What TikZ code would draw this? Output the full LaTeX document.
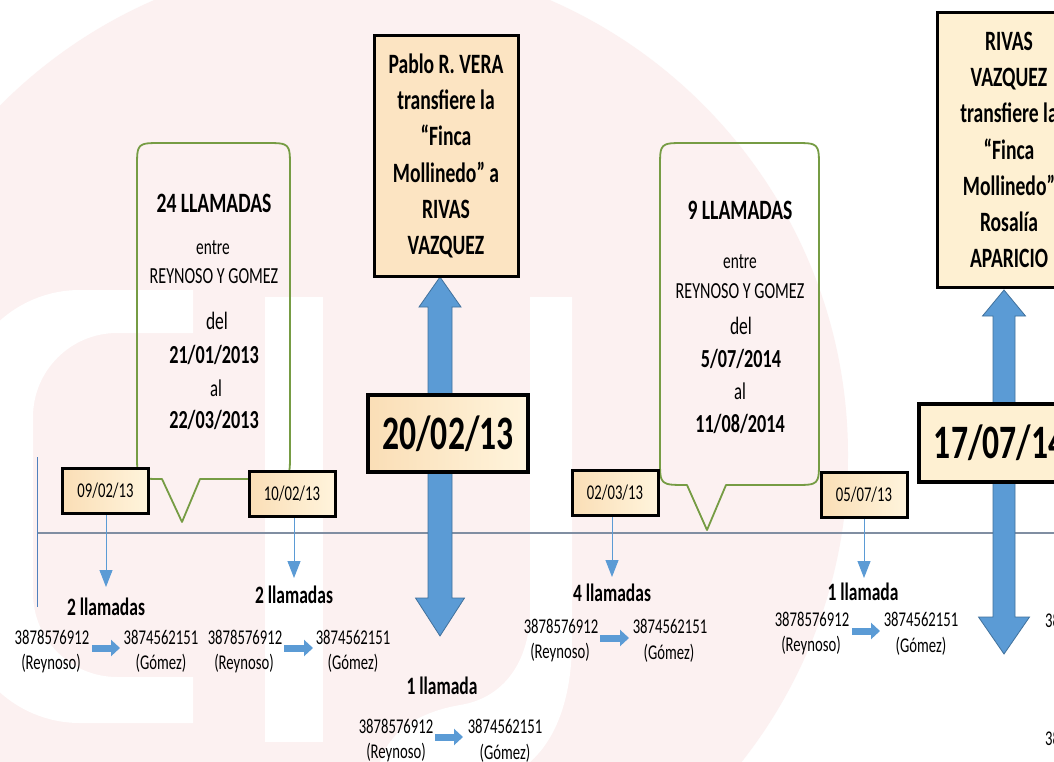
\documentclass[tikz,border=0pt]{standalone}
\usepackage{fontspec}
\setmainfont[FakeStretch=0.7]{Carlito}
\usetikzlibrary{arrows.meta,calc}
\pgfdeclarelayer{wm}
\pgfdeclarelayer{behind}
\pgfsetlayers{wm,behind,main}
\definecolor{wmpink}{RGB}{252,241,241}
\definecolor{callgreen}{RGB}{118,156,68}
\definecolor{arrblue}{RGB}{91,155,213}
\definecolor{arredge}{RGB}{65,113,156}
\definecolor{tline}{RGB}{128,142,162}
\definecolor{vline}{RGB}{79,129,189}
\definecolor{sbA}{RGB}{250,222,182}
\definecolor{sbB}{RGB}{255,244,220}
\definecolor{boxC}{RGB}{252,228,194}
\definecolor{boxD}{RGB}{254,240,210}
\tikzset{
  bx/.style={draw=black, line width=3pt, inner sep=0pt, align=center, text=black},
  smallbox/.style={bx, minimum width=86pt, minimum height=45pt, left color=sbA, right color=sbB, font=\fontsize{21}{25}\selectfont},
  topbox/.style={bx, font=\bfseries\fontsize{28}{36.3}\selectfont},
  bigdate/.style={bx, line width=4pt, font=\bfseries\fontsize{48}{56}\selectfont},
  callout/.style={draw=callgreen, line width=1.8pt, line join=round},
  bigarrow/.style={fill=arrblue, draw=arredge, line width=0.8pt},
  thinarrow/.style={draw=arrblue, line width=1pt, -{Triangle[length=17pt,width=13pt]}},
  phonearrow/.style={draw=arrblue, line width=7pt, -{Triangle[length=9pt,width=16pt]}},
  lbl/.style={inner sep=0pt, font=\bfseries\fontsize{25}{30}\selectfont},
  num/.style={inner sep=0pt, font=\fontsize{21}{25}\selectfont},
  cbold/.style={inner sep=0pt, font=\bfseries\fontsize{26}{30}\selectfont},
  chead/.style={inner sep=0pt, font=\bfseries\fontsize{28}{32}\selectfont},
  creg/.style={inner sep=0pt, font=\fontsize{#1}{#1}\selectfont},
}
\begin{document}
\begin{tikzpicture}[x=1pt,y=-1pt]
\useasboundingbox (0,0) rectangle (1054,762);

% ---------- watermark ----------
\begin{pgfonlayer}{wm}
  \clip (0,0) rectangle (1054,762);
  \fill[white] (0,0) rectangle (1054,762);
  \fill[wmpink] (352,455) circle[radius=496];
  \begin{scope}
    \clip (0,0) rectangle (193,762);
    \fill[white,even odd rule] [rounded corners=120pt] (-40,290) rectangle (420,723) [rounded corners=84pt] (33,333) rectangle (420,677);
  \end{scope}
  \fill[white] (265,297) rectangle (323,742);
  \fill[white] (530,297) -- (572,297) -- (572,640) .. controls (572,700) and (555,740) .. (530,762) -- (380,762) .. controls (390,730) and (420,712) .. (460,705) .. controls (505,698) and (530,660) .. (530,610) -- cycle;
\end{pgfonlayer}

% ---------- boxes ----------
\begin{scope}
\clip (0,0) rectangle (1054,762);
\node[topbox, minimum width=144pt, minimum height=241pt, fill=boxC] (p1) at (446,156)
  {Pablo R. VERA\\transfiere la\\“Finca\\Mollinedo” a\\RIVAS\\VAZQUEZ};
\node[topbox, minimum width=143pt, minimum height=275pt, fill=boxD] (p2) at (1009,150)
  {RIVAS\\VAZQUEZ\\transfiere la\\“Finca\\Mollinedo”\\Rosalía\\APARICIO};
\node[bigdate, minimum width=160pt, minimum height=77pt, left color=sbA, right color=sbB] (b1) at (448,433.5) {20/02/13};
\node[bigdate, minimum width=161pt, minimum height=78pt, fill=boxD] (b2) at (999.5,443) {17/07/14};

\node[smallbox] (d1) at (105.5,491) {09/02/13};
\node[smallbox] (d2) at (292,493.5) {10/02/13};
\node[smallbox] (d3) at (615,493) {02/03/13};
\node[smallbox] (d4) at (864,495) {05/07/13};

% callout texts
\node[chead] (c1a) at (214,203) {24 LLAMADAS};
\node[creg=22] (c1b) at (213,248) {entre};
\node[creg=23] (c1c) at (214,276) {REYNOSO Y GOMEZ};
\node[creg=25] (c1d) at (217,321) {del};
\node[cbold] (c1e) at (214,355) {21/01/2013};
\node[creg=24] (c1f) at (216,388) {al};
\node[cbold] (c1g) at (214,420) {22/03/2013};

\node[chead] (c2a) at (740,210) {9 LLAMADAS};
\node[creg=22] (c2b) at (740,262) {entre};
\node[creg=23] (c2c) at (740,291) {REYNOSO Y GOMEZ};
\node[creg=25] (c2d) at (741,326) {del};
\node[cbold] (c2e) at (741,359) {5/07/2014};
\node[creg=24] (c2f) at (740,391) {al};
\node[cbold] (c2g) at (740,424) {11/08/2014};

% call labels
\node[lbl] (l1) at (106,607) {2 llamadas};
\node[lbl] (l2) at (294,595) {2 llamadas};
\node[lbl] (l3) at (442,686) {1 llamada};
\node[lbl] (l4) at (612,593) {4 llamadas};
\node[lbl] (l5) at (863,592) {1 llamada};

% phone groups
\node[num] (f1) at (52,637) {3878576912};
\node[num] (f1n) at (51,664) {(Reynoso)};
\node[num] (g1) at (161,637) {3874562151};
\node[num] (g1n) at (161,663) {(Gómez)};
\node[num] (f2) at (245,637) {3878576912};
\node[num] (f2n) at (244,664) {(Reynoso)};
\node[num] (g2) at (353,637) {3874562151};
\node[num] (g2n) at (353,663) {(Gómez)};
\node[num] (f3) at (396,726) {3878576912};
\node[num] (f3n) at (396,753) {(Reynoso)};
\node[num] (g3) at (505,726) {3874562151};
\node[num] (g3n) at (505,753) {(Gómez)};
\node[num] (f4) at (561,626) {3878576912};
\node[num] (f4n) at (560,653) {(Reynoso)};
\node[num] (g4) at (670,626) {3874562151};
\node[num] (g4n) at (669,653) {(Gómez)};
\node[num] (f5) at (812,619) {3878576912};
\node[num] (f5n) at (811,646) {(Reynoso)};
\node[num] (g5) at (921,619) {3874562151};
\node[num] (g5n) at (921,646) {(Gómez)};
\node[num, anchor=west] (f6) at (1045,620) {3878576912};
\node[num, anchor=west] (f7) at (1045,738) {3878576912};
\end{scope}

% ---------- lines and arrows ----------
\begin{pgfonlayer}{behind}
  \clip (0,0) rectangle (1054,762);
  \coordinate (tl0) at (37,533);
  \coordinate (tl1) at (1060,533);
  \draw[tline, line width=1.6pt] (tl0) -- (tl1);
  \coordinate (v0) at (37,457);
  \coordinate (v1) at (37,607);
  \draw[vline, line width=0.8pt] (v0) -- (v1);

  % callouts
  \draw[callout] (200,479) -- (265,479) .. controls (290,479) .. (290,454) -- (290,168)
     .. controls (290,143) .. (265,143) -- (162,143) .. controls (137,143) .. (137,168)
     -- (137,454) .. controls (137,479) .. (162,479) -- (182,522) -- cycle;
  \draw[callout] (726,485) -- (794,485) .. controls (819,485) .. (819,460) -- (819,168)
     .. controls (819,143) .. (794,143) -- (685,143) .. controls (660,143) .. (660,168)
     -- (660,460) .. controls (660,485) .. (687,485) -- (707,530) -- cycle;

  % big double arrows
  \coordinate (a1t) at (440,277);
  \coordinate (a1b) at (440,636);
  \draw[bigarrow] (a1t) -- ++(21,30) -- ++(-9,0) -- ($(a1b)+(12,-38)$) -- ++(12.5,0) -- (a1b)
     -- ++(-24.5,-38) -- ++(12.5,0) -- ($(a1t)+(-12,30)$) -- ++(-9,0) -- cycle;
  \coordinate (a2t) at (1004,290);
  \coordinate (a2b) at (1004,654);
  \draw[bigarrow] (a2t) -- ++(21.5,26) -- ++(-10.5,0) -- ($(a2b)+(11,-37)$) -- ++(14.5,0) -- (a2b)
     -- ++(-25.5,-37) -- ++(14.5,0) -- ($(a2t)+(-11,26)$) -- ++(-10.5,0) -- cycle;

  % thin arrows from date boxes
  \coordinate (t1) at (106,587);
  \coordinate (t2) at (294,578);
  \coordinate (t3) at (612,577);
  \coordinate (t4) at (864,578);
  \draw[thinarrow] (d1.south -| t1) -- (t1);
  \draw[thinarrow] (d2.south -| t2) -- (t2);
  \draw[thinarrow] (d3.south -| t3) -- (t3);
  \draw[thinarrow] (d4.south -| t4) -- (t4);

  % phone arrows
  \coordinate (q1a) at (92,648);  \coordinate (q1b) at (120,648);
  \coordinate (q2a) at (284,648); \coordinate (q2b) at (313,648);
  \coordinate (q3a) at (435,737); \coordinate (q3b) at (463,737);
  \coordinate (q4a) at (600,638); \coordinate (q4b) at (629,638);
  \coordinate (q5a) at (852,631); \coordinate (q5b) at (880,631);
  \draw[phonearrow] (q1a) -- (q1b);
  \draw[phonearrow] (q2a) -- (q2b);
  \draw[phonearrow] (q3a) -- (q3b);
  \draw[phonearrow] (q4a) -- (q4b);
  \draw[phonearrow] (q5a) -- (q5b);
\end{pgfonlayer}
\end{tikzpicture}
\end{document}
